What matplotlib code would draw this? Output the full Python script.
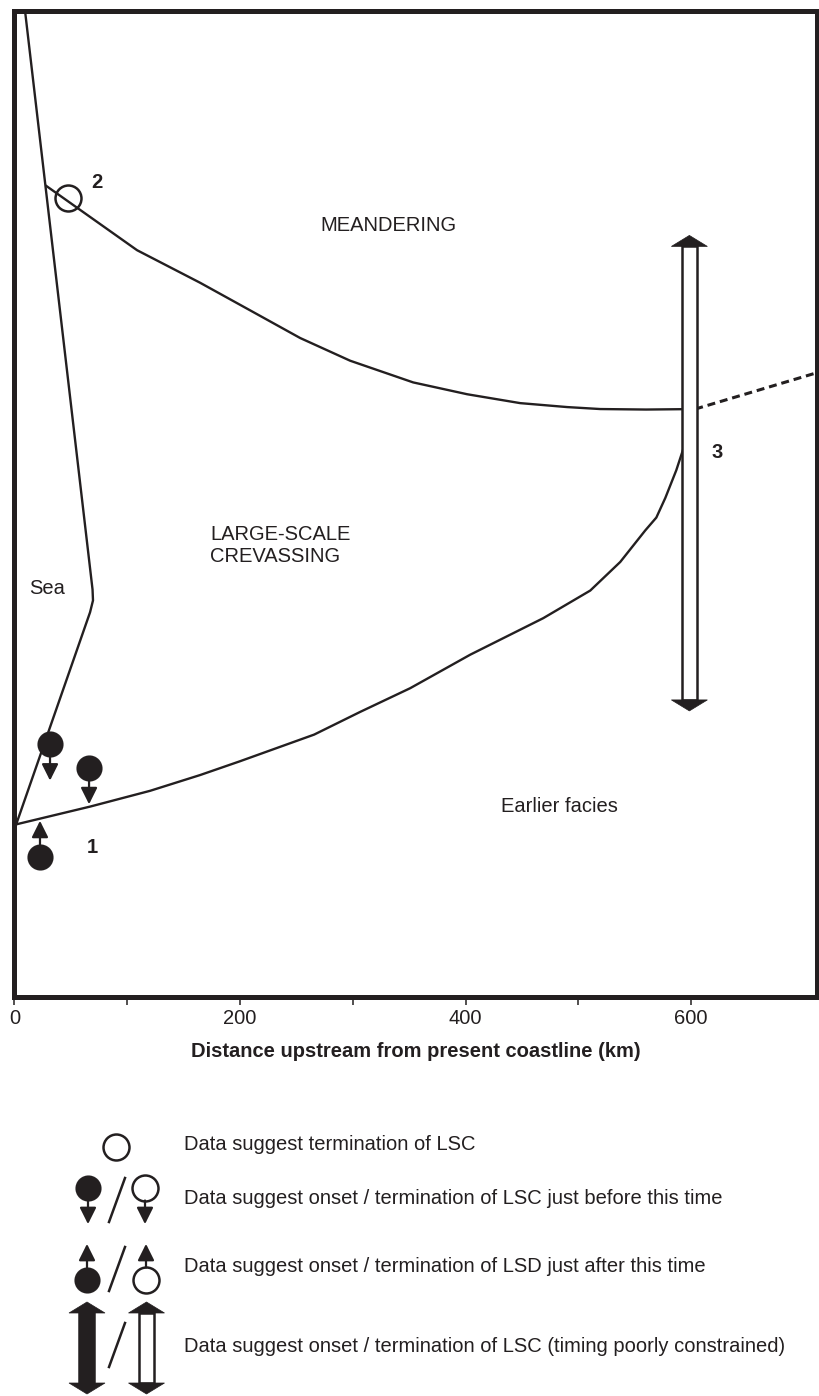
import numpy as np
import matplotlib.pyplot as plt
from matplotlib.patches import Polygon, Rectangle

plt.rcParams['font.family'] = ['Liberation Sans', 'DejaVu Sans']
INK = '#231f20'
FS = 14.5

# Limites des faciès : distance (km) / temps (unités relatives 0-100)
coast_km = [9.3, 69.2, 69.6, 67.0, 1.5]
coast_t = [100, 41.3, 40.2, 39.0, 17.5]

meander_km = [28.4, 108.7, 164.6, 209.0, 253.3, 297.6, 353.5, 401.4, 448.4, 490.0, 519.4, 560.0, 603.6]
meander_t = [82.2, 75.7, 72.4, 69.6, 66.8, 64.5, 62.3, 61.1, 60.2, 59.8, 59.6, 59.55, 59.6]

extrap_km = [603.6, 712]
extrap_t = [59.6, 63.3]

onset_km = [1.5, 67.0, 120.2, 164.6, 200.0, 265.7, 306.5, 350.8, 404.1,
            468.8, 510.5, 537.1, 559.3, 569.1, 577.1, 586.8, 595.7, 603.6]
onset_t = [17.5, 19.3, 20.9, 22.5, 23.9, 26.6, 28.9, 31.3, 34.7,
           38.4, 41.2, 44.1, 47.3, 48.6, 50.6, 53.4, 56.5, 59.6]

# Points de données
end_km, end_t = [47.5], [81.0]
before_km, before_t = [31.5, 66.1], [25.6, 23.2]
after_km, after_t = [22.6], [14.2]
range_km, range_t = 598.4, (29.0, 77.2)

site_labels = ['1', '2', '3']
site_km = [68.7, 73.2, 623.2]
site_t = [15.2, 82.6, 55.2]

zone_labels = ['MEANDERING', 'LARGE-SCALE\nCREVASSING', 'Sea', 'Earlier facies']
zone_km = [331.3, 173.4, 12.9, 483.0]
zone_t = [78.2, 45.8, 41.4, 19.3]
zone_ha = ['center', 'left', 'left', 'center']

legend_texts = ['Data suggest termination of LSC',
                'Data suggest onset / termination of LSC just before this time',
                'Data suggest onset / termination of LSD just after this time',
                'Data suggest onset / termination of LSC (timing poorly constrained)']


def px_scale(ax):
    bb = ax.get_window_extent()
    x0, x1 = ax.get_xlim()
    y0, y1 = ax.get_ylim()
    return abs(x1 - x0) / bb.width, abs(y1 - y0) / bb.height


def pin(ax, x, y, filled, down):
    ax.annotate('', xy=(x, y), xytext=(0, -26 if down else 26), textcoords='offset points',
                arrowprops=dict(arrowstyle='<|-,head_width=0.5,head_length=1.0', color=INK,
                                lw=1.6, shrinkA=0, shrinkB=9, mutation_scale=10), zorder=4)
    ax.plot([x], [y], 'o', ms=18.7, mfc=INK if filled else 'none', mec=INK,
            mew=0.1 if filled else 1.8, zorder=5)


def double_arrow(ax, x, ya, yb, filled):
    sx, sy = px_scale(ax)
    hw, sw, hl = 18 * sx, 7.5 * sx, 11 * sy
    for tip, other in ((ya, yb), (yb, ya)):
        d = 1 if tip > other else -1
        base = tip - d * hl
        ax.add_patch(Polygon([(x - hw, base), (x + hw, base), (x, tip)], closed=True,
                             fc=INK, ec=INK, lw=0.5, zorder=4))
    lo, hi = sorted((ya, yb))
    ax.add_patch(Rectangle((x - sw, lo + hl), 2 * sw, hi - lo - 2 * hl,
                           fc=INK if filled else 'white', ec=INK, lw=1.8, zorder=3))


fig = plt.figure(figsize=(8.2, 13.96), dpi=100)
ax = fig.add_axes([14.5 / 820, (1396 - 997) / 1396, 803 / 820, 986.5 / 1396])
ax.set_xlim(0, 712)
ax.set_ylim(0, 100)

ax.plot(coast_km, coast_t, color=INK, lw=1.7)
ax.plot(meander_km, meander_t, color=INK, lw=1.7)
ax.plot(onset_km, onset_t, color=INK, lw=1.7)
ax.plot(extrap_km, extrap_t, color=INK, lw=2.2, ls='--', dashes=(2.6, 1.6))

ax.plot(end_km, end_t, 'o', ms=18.7, mfc='none', mec=INK, mew=1.8, zorder=5)
for x, y in zip(before_km, before_t):
    pin(ax, x, y, True, True)
for x, y in zip(after_km, after_t):
    pin(ax, x, y, True, False)
double_arrow(ax, range_km, range_t[0], range_t[1], False)

for lab, x, y in zip(site_labels, site_km, site_t):
    ax.text(x, y, lab, fontsize=FS, fontweight='bold', color=INK, ha='center', va='center')
for lab, x, y, ha in zip(zone_labels, zone_km, zone_t, zone_ha):
    ax.text(x, y, lab, fontsize=FS, color=INK, ha=ha, va='center', linespacing=1.2)

ax.set_xticks([0, 200, 400, 600])
ax.set_xticks([100, 300, 500], minor=True)
ax.set_yticks([])
ax.tick_params(axis='x', which='both', direction='out', length=5.4, width=1.1,
               color=INK, labelsize=FS, labelcolor=INK, pad=3)
for s in ax.spines.values():
    s.set_linewidth(3.6)
    s.set_color(INK)
ax.set_xlabel('Distance upstream from present coastline (km)', fontsize=FS,
              fontweight='bold', color=INK, labelpad=10)

# Légende dessinée à la main (coordonnées en pixels)
lg = fig.add_axes([0, 0, 1, 300 / 1396])
lg.set_xlim(0, 820)
lg.set_ylim(1396, 1096)
lg.axis('off')

lg.plot([116.5], [1147], 'o', ms=18.7, mfc='none', mec=INK, mew=1.8)
pin(lg, 88, 1188, True, True)
pin(lg, 145, 1188, False, True)
pin(lg, 87, 1280, True, False)
pin(lg, 146, 1280, False, False)
double_arrow(lg, 87, 1302, 1394, True)
double_arrow(lg, 146.5, 1302, 1394, False)
for y0 in (1178, 1247, 1323):
    lg.plot([125, 109], [y0, y0 + 44], color=INK, lw=1.8)
for txt, y in zip(legend_texts, [1145, 1198, 1267, 1347]):
    lg.text(184, y, txt, fontsize=FS, color=INK, ha='left', va='center')

fig.savefig('out.png', dpi=100)
